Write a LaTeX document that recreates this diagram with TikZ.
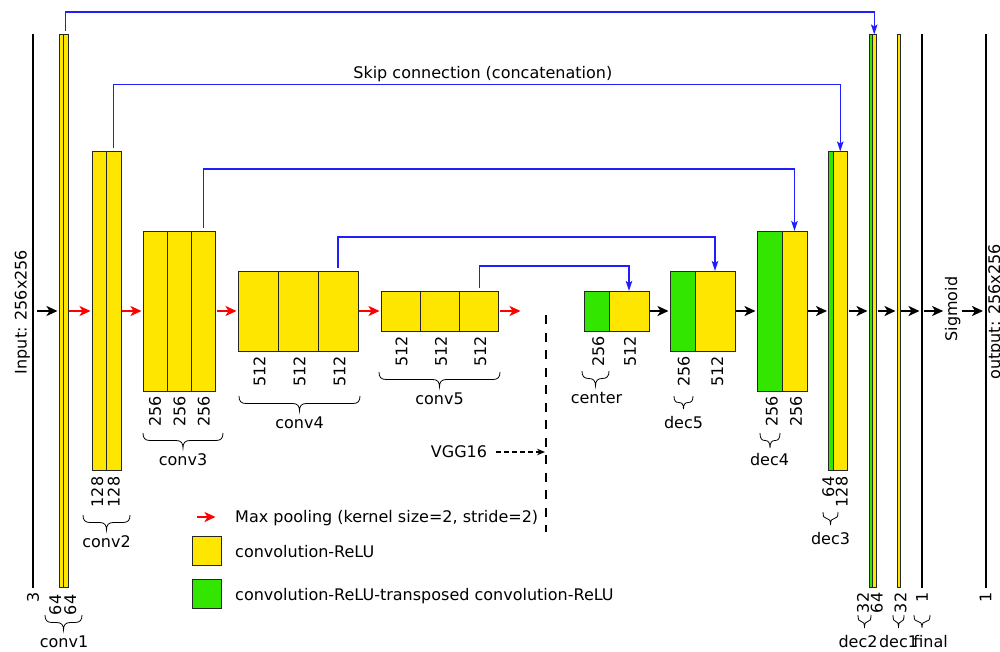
\documentclass[tikz,border=0pt]{standalone}
\usepackage{fontspec}
\setmainfont{DejaVu Sans}
\usetikzlibrary{arrows.meta, calc}

\definecolor{convY}{HTML}{FFE600}
\definecolor{convG}{HTML}{33E600}
\definecolor{skipB}{HTML}{1E1EFF}

% curly brace under a block: x from #1 to #2, top at #3
\newcommand\ubrace[3]{%
    \pgfmathsetmacro\brW{min((#2-#1)/4, 7)}%
    \pgfmathsetmacro\brD{(#2-#1) < 20 ? 13 : 15}%
    \pgfmathsetmacro\brM{(#1+#2)/2}%
    \draw[brc] (#1,#3)
        .. controls (#1,{#3+0.35*\brD}) and ({#1+0.3*\brW},{#3+0.5*\brD}) .. ({#1+\brW},{#3+0.5*\brD})
        -- ({\brM-\brW},{#3+0.5*\brD})
        .. controls ({\brM-0.3*\brW},{#3+0.5*\brD}) and (\brM,{#3+0.65*\brD}) .. (\brM,{#3+\brD})
        .. controls (\brM,{#3+0.65*\brD}) and ({\brM+0.3*\brW},{#3+0.5*\brD}) .. ({\brM+\brW},{#3+0.5*\brD})
        -- ({#2-\brW},{#3+0.5*\brD})
        .. controls ({#2-0.3*\brW},{#3+0.5*\brD}) and (#2,{#3+0.35*\brD}) .. (#2,#3);%
}

\begin{document}
\begin{tikzpicture}[
    x=1pt, y=-1pt,
    every node/.style={font=\fontsize{16}{19}\selectfont},
    col/.style={draw=black!85, line width=0.9pt, inner sep=0pt, outer sep=0pt, anchor=west},
    cy/.style={col, fill=convY},
    cg/.style={col, fill=convG},
    bar/.style={fill=black, inner sep=0pt, outer sep=0pt, anchor=center,
        minimum height=553pt, minimum width=#1},
    fwd/.style={-{Stealth[length=11pt, width=10pt, inset=3pt]}, line width=2.8pt,
        shorten <=1pt, shorten >=1.5pt},
    pool/.style={fwd, red},
    skip/.style={-{Stealth[length=10pt, width=6.5pt, inset=2pt]}, skipB, line width=1.4pt,
        shorten <=3pt},
    vgg/.style={line width=2.4pt, dash pattern=on 9pt off 8.5pt},
    hint/.style={-{Stealth[length=8pt, width=6.5pt]}, line width=1.5pt,
        dash pattern=on 4.5pt off 3.5pt, shorten <=9pt, shorten >=1pt},
    num/.style={rotate=90, anchor=east, inner sep=0pt},
    vlbl/.style={rotate=90, anchor=base, inner sep=0pt},
    lbl/.style={inner sep=0pt},
    brc/.style={line width=0.8pt},
]

\useasboundingbox (0,0) rectangle (1000,652);

% input image
\node[bar=2.5pt] (inp) at (33,311) {};
\node[vlbl] (inlbl) at (26.5,312) {Input: 256x256};

% conv1 .. conv5 (VGG16 encoder)
\foreach \n [count=\i from 0] in {a,b}
    \node[cy, minimum width=4.5pt, minimum height=553pt] (c1\n) at ({59+\i*4.5},311) {};
\foreach \n [count=\i from 0] in {a,b}
    \node[cy, minimum width=14.5pt, minimum height=319pt] (c2\n) at ({92+\i*14.5},311) {};
\foreach \n [count=\i from 0] in {a,b,c}
    \node[cy, minimum width=24.3pt, minimum height=160pt] (c3\n) at ({143+\i*24.3},311) {};
\foreach \n [count=\i from 0] in {a,b,c}
    \node[cy, minimum width=40pt, minimum height=80pt] (c4\n) at ({238+\i*40},311) {};
\foreach \n [count=\i from 0] in {a,b,c}
    \node[cy, minimum width=39.3pt, minimum height=40pt] (c5\n) at ({381+\i*39.3},311) {};

% decoder: green part first, then yellow
\node[cg, minimum width=25pt, minimum height=40pt] (cena) at (584,311) {};
\node[cy, minimum width=40pt, minimum height=40pt] (cenb) at (609,311) {};
\node[cg, minimum width=25pt, minimum height=80pt] (d5a) at (670,311) {};
\node[cy, minimum width=40pt, minimum height=80pt] (d5b) at (695,311) {};
\node[cg, minimum width=25pt, minimum height=160pt] (d4a) at (757,311) {};
\node[cy, minimum width=25pt, minimum height=160pt] (d4b) at (782,311) {};
\node[cg, minimum width=4.5pt, minimum height=319pt] (d3a) at (828.5,311) {};
\node[cy, minimum width=14.5pt, minimum height=319pt] (d3b) at (833,311) {};
\node[cg, minimum width=3pt, minimum height=553pt] (d2a) at (869,311) {};
\node[cy, minimum width=4.5pt, minimum height=553pt] (d2b) at (872,311) {};
\node[cy, minimum width=3pt, minimum height=553pt] (d1) at (897,311) {};
\node[bar=2pt] (fin) at (922,311) {};

% sigmoid and output
\node[vlbl] (sig) at (957,309) {Sigmoid};
\node[bar=2pt] (outp) at (985.5,311) {};
\node[vlbl] (outlbl) at (1000,312) {output: 256x256};

% forward arrows
\draw[fwd, shorten <=3pt] (inp.east) -- (c1a.west);
\foreach \a/\b in {c1b/c2a, c2b/c3a, c3c/c4a, c4c/c5a}
    \draw[pool] (\a.east) -- (\b.west);
\coordinate (p5) at (522,311);
\draw[pool] (c5c.east) -- (p5);
\foreach \a/\b in {cenb/d5a, d5b/d4a, d4b/d3a, d3b/d2a, d2b/d1, d1/fin}
    \draw[fwd] (\a.east) -- (\b.west);
\draw[fwd] (fin.east) -- (fin.east -| sig.north);
\draw[fwd] (sig.south |- outp.west) -- (outp.west);

% skip connections
\draw[skip] (c1b.north) -- ++(0,-22.5) -| (d2b.north);
\draw[skip] (c2b.north) -- ++(0,-67) -| node[pos=.254, above, inner sep=2pt, text=black] (skiplbl)
    {Skip connection (concatenation)} (d3b.north);
\draw[skip] (c3c.north) -- ++(0,-62) -| (d4b.north);
\draw[skip] (c4c.north) -- ++(0,-34) -| (d5b.north);
\draw[skip] (c5c.north) -- ++(0,-25) -| (cenb.north);

% channel numbers
\foreach \c/\t/\dx/\dy in {inp/3/0/4.5, c1a/64/-6/7, c1b/64/4.5/7, c2a/128/-2/6, c2b/128/0/6,
        c3a/256/0/5, c3b/256/0/5, c3c/256/0/5, c4a/512/1.5/5, c4b/512/1.5/5, c4c/512/1.5/5,
        c5a/512/1/5, c5b/512/1/5, c5c/512/1/5, cena/256/1.8/5, cenb/512/1/5,
        d5a/256/1.2/5, d5b/512/2.3/5, d4a/256/2.4/5, d4b/256/1.5/5, d3a/64/-2.5/6,
        d3b/128/1.5/6, d2a/32/-7.5/5, d2b/64/2.5/5, d1/32/2/5, fin/1/0/5, outp/1/0/5}
    \node[num] (n\c) at ([xshift=\dx, yshift=-\dy]\c.south) {\t};

% braces and block names
\foreach \xa/\xb/\yb/\xl/\t in {45/82/615/64/conv1, 83/130/515/106.5/conv2,
        143/223/433/183/conv3, 239/360/396/299.5/conv4, 379/500/372/439.5/conv5,
        582/609/371/596.5/center, 674/693/396/683.5/dec5, 760/780/433/769.5/dec4,
        823/838/512/830.5/dec3, 858/871/615/858/dec2, 893/904/615/898.5/dec1,
        914/930/615/930.5/final} {
    \ubrace{\xa}{\xb}{\yb}
    \node[lbl] (l\t) at (\xl,{\yb+27}) {\t};
}

% VGG16 boundary
\coordinate (vggtop) at (546,315);
\coordinate (vggbot) at (546,532);
\draw[vgg] (vggtop) -- (vggbot);
\node[lbl] (vgg) at (459,452) {VGG16};
\draw[hint] (vgg.east) -- (vgg.east -| vggtop);

% legend
\coordinate (legA) at (196,517);
\coordinate (legB) at (217,517);
\draw[pool] (legA) -- (legB);
\node[lbl, anchor=base west] (legpooltxt) at (235,522.5) {Max pooling (kernel size=2, stride=2)};
\node[cy, minimum width=29pt, minimum height=29pt] (legconv) at (192.5,550.5) {};
\node[lbl, anchor=base west] (legconvtxt) at (235,557) {convolution-ReLU};
\node[cg, minimum width=29pt, minimum height=29pt] (legtconv) at (192.5,593.8) {};
\node[lbl, anchor=base west] (legtconvtxt) at (235,600.5)
    {convolution-ReLU-transposed convolution-ReLU};

\end{tikzpicture}
\end{document}
